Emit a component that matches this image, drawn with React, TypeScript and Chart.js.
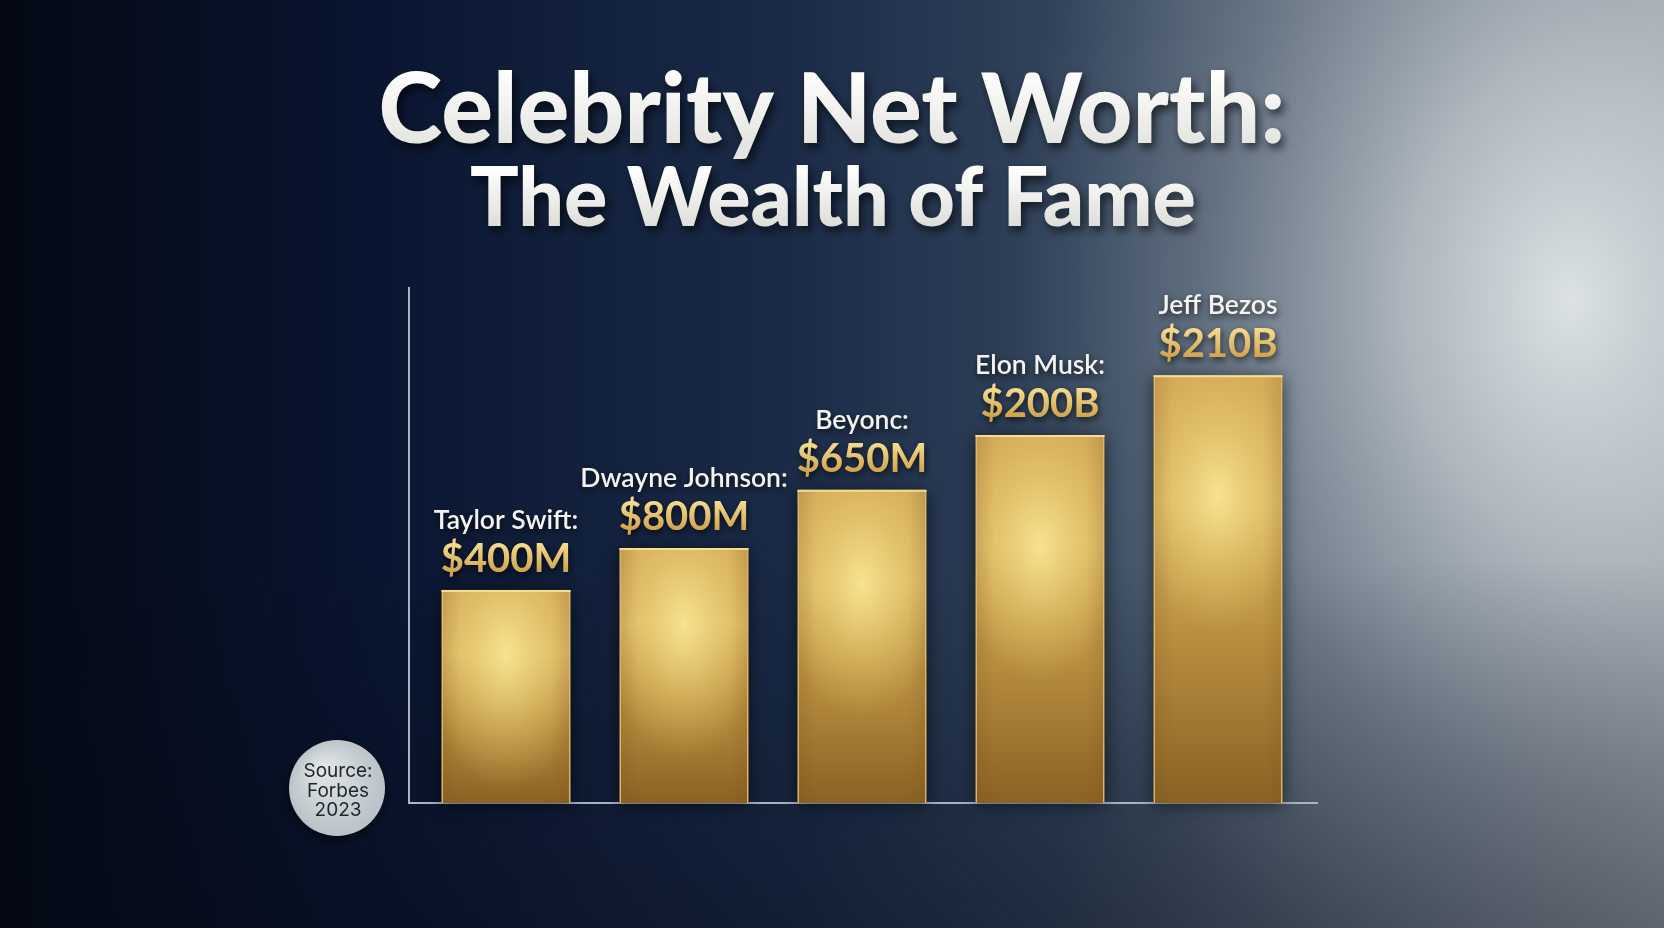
import React, { useEffect, useRef } from "react";
import { Chart, registerables } from "chart.js";

Chart.register(...registerables);

const celebrities = ["Taylor Swift:", "Dwayne Johnson:", "Beyonc:", "Elon Musk:", "Jeff Bezos"];
const worthLabels = ["$400M", "$800M", "$650M", "$200B", "$210B"];
// bar heights as drawn (relative units, axis 0-100)
const barHeights = [41.3, 49.4, 60.7, 71.3, 82.9];
const titleLine1 = "Celebrity Net Worth:";
const titleLine2 = "The Wealth of Fame";
const sourceLines = ["Source:", "Forbes", "2023"];

const W = 1664;
const H = 928;

const backgroundPlugin = {
  id: "bgPaint",
  beforeDraw(chart: any) {
    const ctx = chart.ctx;
    ctx.save();
    const g = ctx.createLinearGradient(0, 0, W, 0);
    g.addColorStop(0, "#040914");
    g.addColorStop(0.22, "#091530");
    g.addColorStop(0.48, "#1b2c48");
    g.addColorStop(0.64, "#32445b");
    g.addColorStop(0.8, "#5f6d7c");
    g.addColorStop(1, "#939ca5");
    ctx.fillStyle = g;
    ctx.fillRect(0, 0, W, H);
    ctx.save();
    ctx.translate(1570, 300);
    ctx.scale(1, 1.35);
    const r = ctx.createRadialGradient(0, 0, 0, 0, 0, 560);
    r.addColorStop(0, "rgba(222,228,230,0.97)");
    r.addColorStop(0.3, "rgba(200,207,212,0.7)");
    r.addColorStop(0.65, "rgba(160,170,180,0.28)");
    r.addColorStop(1, "rgba(140,152,164,0)");
    ctx.fillStyle = r;
    ctx.fillRect(-1600, -700, 3200, 1400);
    ctx.restore();
    const b = ctx.createLinearGradient(0, 560, 0, H);
    b.addColorStop(0, "rgba(4,9,20,0)");
    b.addColorStop(1, "rgba(4,9,20,0.38)");
    ctx.fillStyle = b;
    ctx.fillRect(0, 0, W, H);
    ctx.restore();
  },
};

function fitFont(ctx: any, text: string, targetWidth: number, family: string, weight: string, fallback: number) {
  ctx.font = `${weight} 100px ${family}`;
  const w = ctx.measureText(text).width;
  const s = (100 * targetWidth) / w;
  return isFinite(s) && s > 0 ? s : fallback;
}

const decorPlugin = {
  id: "decor",
  beforeDatasetsDraw(chart: any) {
    const ctx = chart.ctx;
    const area = chart.chartArea;
    ctx.save();
    ctx.strokeStyle = "#a9b5c4";
    ctx.lineWidth = 2;
    ctx.beginPath();
    ctx.moveTo(area.left - 8, area.top);
    ctx.lineTo(area.left - 8, area.bottom);
    ctx.lineTo(area.right + 11, area.bottom);
    ctx.stroke();
    ctx.restore();
    const meta = chart.getDatasetMeta(0);
    ctx.save();
    meta.data.forEach((bar: any) => {
      const p = bar.getProps(["x", "y", "base", "width"], true);
      if (![p.x, p.y, p.base, p.width].every(isFinite)) return;
      ctx.shadowColor = "rgba(0,0,0,0.55)";
      ctx.shadowBlur = 16;
      ctx.shadowOffsetX = 0;
      ctx.shadowOffsetY = 2;
      ctx.fillStyle = "#8a6a30";
      ctx.fillRect(p.x - p.width / 2, p.y, p.width, p.base - p.y);
    });
    ctx.restore();
  },
  afterDatasetsDraw(chart: any) {
    const ctx = chart.ctx;
    const meta = chart.getDatasetMeta(0);
    meta.data.forEach((bar: any, i: number) => {
      const p = bar.getProps(["x", "y", "base", "width"], true);
      if (![p.x, p.y, p.base, p.width].every(isFinite)) return;
      const left = p.x - p.width / 2;
      const h = p.base - p.y;
      ctx.save();
      ctx.beginPath();
      ctx.rect(left + 1, p.y + 1, p.width - 2, h - 1);
      ctx.clip();
      const cy = p.y + Math.min(0.3 * h, 120);
      ctx.save();
      ctx.translate(p.x, cy);
      ctx.scale(1, 1.7);
      const rg = ctx.createRadialGradient(0, 0, 0, 0, 0, p.width * 0.62);
      rg.addColorStop(0, "rgba(248,230,150,0.92)");
      rg.addColorStop(0.5, "rgba(242,216,128,0.42)");
      rg.addColorStop(1, "rgba(236,205,115,0)");
      ctx.fillStyle = rg;
      ctx.fillRect(-p.width, -h, p.width * 2, h * 2);
      ctx.restore();
      const eg = ctx.createLinearGradient(left, 0, left + p.width, 0);
      eg.addColorStop(0, "rgba(110,70,15,0.18)");
      eg.addColorStop(0.15, "rgba(110,70,15,0)");
      eg.addColorStop(0.85, "rgba(110,70,15,0)");
      eg.addColorStop(1, "rgba(110,70,15,0.18)");
      ctx.fillStyle = eg;
      ctx.fillRect(left, p.y, p.width, h);
      ctx.restore();

      ctx.save();
      ctx.strokeStyle = "rgba(246,224,150,0.95)";
      ctx.lineWidth = 2;
      ctx.beginPath();
      ctx.moveTo(left, p.y + 1);
      ctx.lineTo(left + p.width, p.y + 1);
      ctx.stroke();
      ctx.restore();

      const valueBase = p.y - 18;
      const nameBase = valueBase - 43;
      ctx.save();
      ctx.textAlign = "center";
      ctx.textBaseline = "alphabetic";
      ctx.shadowColor = "rgba(0,0,0,0.7)";
      ctx.shadowBlur = 7;
      ctx.shadowOffsetX = 1;
      ctx.shadowOffsetY = 3;
      ctx.font = "bold 40px Lato";
      const vg = ctx.createLinearGradient(0, valueBase - 29, 0, valueBase);
      vg.addColorStop(0, "#f6dc90");
      vg.addColorStop(1, "#d0a34c");
      ctx.fillStyle = vg;
      ctx.fillText(worthLabels[i], p.x, valueBase);
      ctx.font = "600 26.5px Lato";
      ctx.fillStyle = "#f4f4f2";
      ctx.fillText(celebrities[i], p.x, nameBase);
      ctx.restore();
    });
  },
  afterDraw(chart: any) {
    const ctx = chart.ctx;
    ctx.save();
    ctx.textAlign = "center";
    ctx.textBaseline = "alphabetic";
    const s1 = fitFont(ctx, titleLine1, 907, "Lato", "900", 96);
    ctx.font = `900 ${s1}px Lato`;
    ctx.shadowColor = "rgba(0,0,0,0.65)";
    ctx.shadowBlur = 10;
    ctx.shadowOffsetX = 3;
    ctx.shadowOffsetY = 5;
    const tg = ctx.createLinearGradient(0, 70, 0, 145);
    tg.addColorStop(0, "#ffffff");
    tg.addColorStop(1, "#e4e4e0");
    ctx.fillStyle = tg;
    ctx.fillText(titleLine1, 832, 143);
    const s2 = fitFont(ctx, titleLine2, 726, "Lato", "900", 78);
    ctx.font = `900 ${s2}px Lato`;
    const tg2 = ctx.createLinearGradient(0, 168, 0, 228);
    tg2.addColorStop(0, "#ffffff");
    tg2.addColorStop(1, "#dcdcd8");
    ctx.fillStyle = tg2;
    ctx.fillText(titleLine2, 833, 226);
    ctx.restore();

    const area = chart.chartArea;
    const cx = area.left - 80;
    const cy = area.bottom - 15;
    ctx.save();
    ctx.shadowColor = "rgba(0,0,0,0.6)";
    ctx.shadowBlur = 12;
    ctx.shadowOffsetY = 3;
    const cg = ctx.createRadialGradient(cx - 15, cy - 20, 5, cx, cy, 50);
    cg.addColorStop(0, "#dfe4e6");
    cg.addColorStop(1, "#b9c1c6");
    ctx.fillStyle = cg;
    ctx.beginPath();
    ctx.arc(cx, cy, 48, 0, Math.PI * 2);
    ctx.fill();
    ctx.restore();
    ctx.save();
    ctx.fillStyle = "#1f252b";
    ctx.font = "19px Inter";
    ctx.textAlign = "center";
    ctx.textBaseline = "alphabetic";
    sourceLines.forEach((t, k) => ctx.fillText(t, cx + 1, cy - 11 + k * 19.5));
    ctx.restore();
  },
};

function barFill(c: any) {
  const chartObj = c.chart;
  const ys = chartObj && chartObj.scales && chartObj.scales.y;
  const v = c.parsed && c.parsed.y;
  if (!ys || typeof v !== "number") return "#c9a24e";
  const top = ys.getPixelForValue(v);
  const bottom = ys.getPixelForValue(0);
  if (!isFinite(top) || !isFinite(bottom) || top === bottom) return "#c9a24e";
  const g = chartObj.ctx.createLinearGradient(0, top, 0, bottom);
  g.addColorStop(0, "#d3ab58");
  g.addColorStop(0.3, "#ddb964");
  g.addColorStop(0.6, "#b99040");
  g.addColorStop(1, "#8a6223");
  return g;
}

export default function App() {
  const ref = useRef<HTMLCanvasElement | null>(null);
  useEffect(() => {
    let chart: any = null;
    let cancelled = false;
    const build = () => {
      if (cancelled || !ref.current) return;
      chart = new Chart(ref.current, {
        type: "bar",
        data: {
          labels: celebrities,
          datasets: [
            {
              data: barHeights,
              barPercentage: 0.725,
              categoryPercentage: 1,
              borderWidth: 1.5,
              borderColor: "rgba(238,214,140,0.85)",
              borderSkipped: "bottom",
              backgroundColor: barFill,
            },
          ],
        },
        options: {
          responsive: false,
          animation: false,
          devicePixelRatio: 1,
          layout: { padding: { left: 417, right: 357, top: 287, bottom: 125 } },
          scales: {
            x: { display: false, offset: true },
            y: { display: false, min: 0, max: 100 },
          },
          plugins: {
            legend: { display: false },
            tooltip: { enabled: false },
            title: { display: false },
          },
        },
        plugins: [backgroundPlugin, decorPlugin],
      });
    };
    const fontsReady = (document as any).fonts
      ? Promise.all([
          (document as any).fonts.load("900 40px Lato"),
          (document as any).fonts.load("bold 40px Lato"),
          (document as any).fonts.load("600 26px Lato"),
          (document as any).fonts.load("19px Inter"),
        ]).catch(() => null)
      : Promise.resolve(null);
    fontsReady.then(build);
    return () => {
      cancelled = true;
      if (chart) chart.destroy();
    };
  }, []);
  return (
    <div style={{ position: "fixed", left: 0, top: 0, width: W, height: H, overflow: "hidden" }}>
      <canvas ref={ref} width={W} height={H} style={{ display: "block" }} />
    </div>
  );
}
